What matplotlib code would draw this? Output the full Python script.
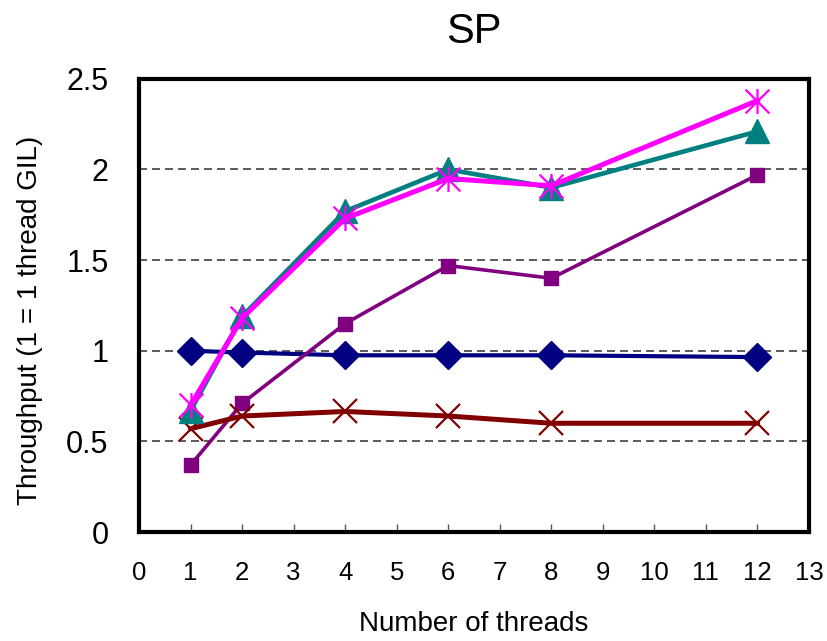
import numpy as np
import matplotlib
matplotlib.use("Agg")
import matplotlib.pyplot as plt
from matplotlib.path import Path

plt.rcParams['font.family'] = ['Liberation Sans', 'DejaVu Sans']

threads = [1, 2, 4, 6, 8, 12]
s_diamond = [1.00, 0.99, 0.975, 0.975, 0.975, 0.965]
s_cross = [0.57, 0.64, 0.665, 0.64, 0.60, 0.60]
s_square = [0.37, 0.71, 1.15, 1.47, 1.40, 1.97]
s_triangle = [0.67, 1.19, 1.77, 2.00, 1.90, 2.21]
s_asterisk = [0.70, 1.18, 1.73, 1.95, 1.91, 2.38]

# asterisk marker: X plus vertical bar
ast = Path([(-1, -1), (1, 1), (-1, 1), (1, -1), (0, -1.05), (0, 1.05)],
           [Path.MOVETO, Path.LINETO, Path.MOVETO, Path.LINETO, Path.MOVETO, Path.LINETO])

fig = plt.figure(figsize=(8.28, 6.41), dpi=100)
ax = fig.add_axes([0.168, 0.170, 0.809, 0.707])

ax.plot(threads, s_diamond, color="#000080", lw=3, marker="D", ms=14, zorder=3)
ax.plot(threads, s_square, color="#800080", lw=2.6, marker="s", ms=9.5, zorder=3)
ax.plot(threads, s_cross, color="#800000", lw=3.6, marker="x", ms=17, mew=1.6, zorder=3)
ax.plot(threads, s_triangle, color="#008080", lw=3.3, marker="^", ms=17, zorder=3)
ax.plot(threads, s_asterisk, color="#FF00FF", lw=3.6, marker=ast, ms=18, mew=1.6, zorder=4)

ax.set_xlim(0, 13)
ax.set_ylim(0, 2.5)
ax.set_xticks(range(0, 14))
ax.set_yticks([0, 0.5, 1, 1.5, 2, 2.5])
ax.set_yticklabels(["0", "0.5", "1", "1.5", "2", "2.5"])

for y in [0.5, 1, 1.5, 2]:
    ax.axhline(y, color="#404040", lw=1.2, ls=(0, (4.8, 3)), zorder=1)

for s in ax.spines.values():
    s.set_linewidth(3)
    s.set_color("black")

ax.tick_params(axis="x", direction="in", length=5.5, width=1, color="#555555",
               labelsize=18.5, pad=21)
ax.tick_params(axis="y", length=0, labelsize=22, pad=22)

ax.set_title("SP", fontsize=30, pad=26)
ax.set_xlabel("Number of threads", fontsize=20)
ax.set_ylabel("Throughput (1 = 1 thread GIL)", fontsize=20)
ax.xaxis.set_label_coords(0.5, -0.175)
ax.yaxis.set_label_coords(-0.143, 0.468)

fig.savefig("out.png", dpi=100)
